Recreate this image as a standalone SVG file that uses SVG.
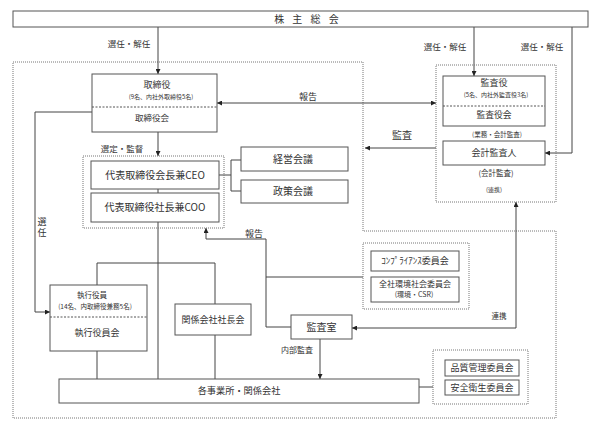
<svg xmlns="http://www.w3.org/2000/svg" width="595" height="435" viewBox="0 0 595 435">
<defs>
<style>
.box{fill:#fff;stroke:#555;stroke-width:1}
.dot{fill:none;stroke:#777;stroke-width:1;stroke-dasharray:1 1}
.dash{stroke:#555;stroke-width:1;stroke-dasharray:2 1.5}
.ln{fill:none;stroke:#444;stroke-width:1}
text{font-family:"Noto Sans CJK JP","Noto Sans CJK SC",sans-serif;fill:#333;text-anchor:middle}
</style>
<marker id="arr" viewBox="0 0 6 6" refX="6" refY="3" markerWidth="5" markerHeight="5" orient="auto-start-reverse" markerUnits="userSpaceOnUse">
<path d="M0,0 L6,3 L0,6 z" fill="#222"/>
</marker>
</defs>
<rect width="595" height="435" fill="#fff"/>

<g id="outer-area">
<path class="dot" d="M13,62 H363 V231 H556 V418 H13 Z"/>
</g>

<g id="connectors">
<path class="ln" d="M158,27 V74" marker-end="url(#arr)"/>
<path class="ln" d="M474,27 V76" marker-end="url(#arr)"/>
<path class="ln" d="M572,27 V153 H545" marker-end="url(#arr)"/>
<path class="ln" d="M217,103 H436" marker-start="url(#arr)" marker-end="url(#arr)"/>
<path class="ln" d="M436,148 H365" marker-end="url(#arr)"/>
<path class="ln" d="M158,132 V156" marker-end="url(#arr)"/>
<path class="ln" d="M158,189 V193"/>
<path class="ln" d="M158,222 V379"/>
<path class="ln" d="M219,175 H231 M231,160 V191 M231,160 H241 M231,191 H241"/>
<path class="ln" d="M291,327 H266 V239 H206 V228" marker-end="url(#arr)"/>
<path class="ln" d="M266,277 H363"/>
<path class="ln" d="M516,202 V328 H352" marker-start="url(#arr)" marker-end="url(#arr)"/>
<path class="ln" d="M320,339 V379" marker-end="url(#arr)"/>
<path class="ln" d="M92,112 H35 V312 H50" marker-end="url(#arr)"/>
<path class="ln" d="M97,351 V379"/>
<path class="ln" d="M97,285 V263 H215 V304"/>
<path class="ln" d="M215,335 V379"/>
<path class="ln" d="M419,387 H433"/>
<text x="129" y="47" font-size="8.5">選任・解任</text>
<text x="445" y="49.5" font-size="8.5">選任・解任</text>
<text x="542" y="49.5" font-size="8.5">選任・解任</text>
<text x="308" y="99.5" font-size="9">報告</text>
<text x="402" y="139" font-size="10">監査</text>
<text x="122" y="152" font-size="8.5">選定・監督</text>
<text x="254" y="236.5" font-size="9">報告</text>
<text x="499" y="319" font-size="7.5">連携</text>
<text x="297" y="353" font-size="8">内部監査</text>
<text x="42" y="228" font-size="9" writing-mode="vertical-rl" letter-spacing="2">選任</text>
</g>

<g id="shareholders">
<rect class="box" x="13" y="11" width="575" height="16"/>
<text x="308" y="22.5" font-size="10" letter-spacing="3">株 主 総 会</text>
</g>

<g id="board">
<rect class="box" x="92" y="74" width="125" height="58"/>
<line class="dash" x1="92" y1="107" x2="217" y2="107"/>
<text x="157" y="87.8" font-size="9">取締役</text>
<text x="161" y="98.8" font-size="6">(9名、内社外取締役5名)</text>
<text x="152" y="120.5" font-size="8.5">取締役会</text>
</g>

<g id="executives-group">
<rect class="dot" x="83" y="156" width="141" height="72"/>
</g>
<g id="ceo">
<rect class="box" x="91" y="161" width="128" height="28"/>
<text x="155" y="178.6" font-size="10">代表取締役会長兼CEO</text>
</g>
<g id="coo">
<rect class="box" x="91" y="193" width="128" height="29"/>
<text x="155" y="211" font-size="10">代表取締役社長兼COO</text>
</g>

<g id="management-meeting">
<rect class="box" x="241" y="147" width="107" height="24"/>
<text x="293" y="162.6" font-size="10">経営会議</text>
</g>
<g id="policy-meeting">
<rect class="box" x="241" y="180" width="107" height="23"/>
<text x="293" y="195.2" font-size="10">政策会議</text>
</g>

<g id="audit-group">
<rect class="dot" x="436" y="65" width="120" height="137"/>
<text x="497" y="136.5" font-size="6.5">(業務・会計監査)</text>
<text x="496" y="176" font-size="7.5">(会計監査)</text>
<text x="494" y="191.5" font-size="6">(連携)</text>
</g>
<g id="auditors">
<rect class="box" x="443" y="76" width="102" height="50"/>
<line class="dash" x1="443" y1="106" x2="545" y2="106"/>
<text x="494" y="86.3" font-size="9">監査役</text>
<text x="496" y="97.2" font-size="6">(5名、内社外監査役3名)</text>
<text x="494" y="118" font-size="8.8">監査役会</text>
</g>
<g id="accounting-auditor">
<rect class="box" x="443" y="141" width="102" height="24"/>
<text x="494" y="156.3" font-size="9">会計監査人</text>
</g>

<g id="committee-group">
<rect class="dot" x="363" y="243" width="106" height="66"/>
</g>
<g id="compliance">
<rect class="box" x="371" y="251" width="88" height="20"/>
<text x="415" y="264.3" font-size="9">ｺﾝﾌﾟﾗｲｱﾝｽ委員会</text>
</g>
<g id="environment">
<rect class="box" x="371" y="277" width="88" height="25"/>
<text x="415" y="287.2" font-size="8">全社環境社会委員会</text>
<text x="414" y="297.3" font-size="7">(環境・CSR)</text>
</g>

<g id="audit-office">
<rect class="box" x="291" y="315" width="61" height="24"/>
<text x="321.5" y="330.6" font-size="10">監査室</text>
</g>

<g id="executive-officers">
<rect class="box" x="50" y="285" width="97" height="66"/>
<line class="dash" x1="50" y1="317" x2="147" y2="317"/>
<text x="92" y="298" font-size="7.5">執行役員</text>
<text x="95" y="308.5" font-size="6.5">(14名、内取締役兼務5名)</text>
<text x="97" y="336.2" font-size="9">執行役員会</text>
</g>

<g id="affiliate-presidents">
<rect class="box" x="175" y="304" width="76" height="31"/>
<text x="213" y="323" font-size="9">関係会社社長会</text>
</g>

<g id="offices">
<rect class="box" x="59" y="379" width="360" height="24"/>
<text x="239" y="394.3" font-size="9.2">各事業所・関係会社</text>
</g>

<g id="quality-group">
<rect class="dot" x="433" y="350" width="95" height="54"/>
</g>
<g id="quality">
<rect class="box" x="445" y="360" width="74" height="16"/>
<text x="482" y="371.3" font-size="9">品質管理委員会</text>
</g>
<g id="safety">
<rect class="box" x="445" y="380" width="74" height="15"/>
<text x="482" y="390.8" font-size="9">安全衛生委員会</text>
</g>
</svg>
